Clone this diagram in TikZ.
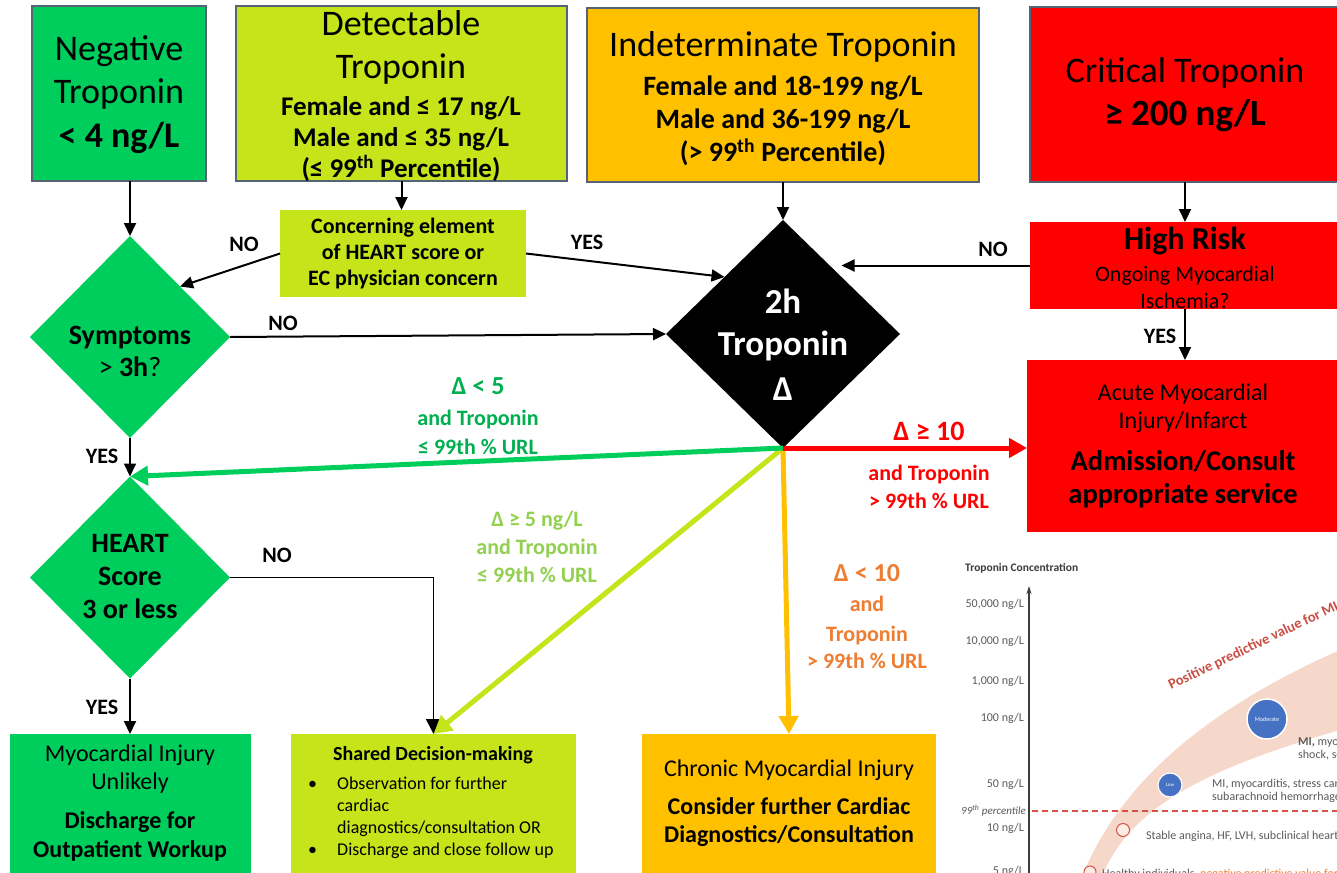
\documentclass[tikz,border=0pt]{standalone}
\usepackage{fontspec}
\setmainfont{Carlito}
\usetikzlibrary{shapes.geometric,arrows.meta}
\definecolor{cgreen}{RGB}{0,206,92}
\definecolor{clime}{RGB}{198,228,26}
\definecolor{corange}{RGB}{255,192,0}
\definecolor{cred}{RGB}{255,0,0}
\definecolor{cborder}{RGB}{86,99,118}
\definecolor{tgreen}{RGB}{0,176,80}
\definecolor{tlime}{RGB}{146,208,80}
\definecolor{torange}{RGB}{237,125,49}
\definecolor{cband}{RGB}{246,216,202}
\definecolor{cblue}{RGB}{70,114,196}
\definecolor{cgray}{RGB}{90,90,90}
\definecolor{cdark}{RGB}{60,60,60}
\definecolor{cppv}{RGB}{200,80,70}
\definecolor{cdash}{RGB}{215,80,70}
\definecolor{cpale}{RGB}{252,236,228}
\newcommand\myfs[2]{\fontsize{#1}{#2}\selectfont\spaceskip=\fontdimen2\font\relax\xspaceskip=\fontdimen2\font\relax}
\begin{document}
\begin{tikzpicture}[x=1pt,y=-1pt,
  bx/.style={rectangle, anchor=north west, inner sep=0pt, outer sep=0pt},
  tb/.style={bx, draw=cborder, line width=2pt},
  dia/.style={diamond, inner sep=0pt, outer sep=0pt},
  tx/.style={align=flush center, inner sep=0pt, text width=#1},
  tx/.default=300pt,
  yn/.style={font=\bfseries\myfs{22}{26}, inner sep=0pt},
  barrow/.style={line width=2pt, -{Triangle[length=13pt,width=12pt]}},
  narrow/.style={line width=1.6pt, -{Triangle[length=15pt,width=15pt]}},
  fat/.style={line width=5pt, -{Triangle[length=18pt,width=19pt]}},
  ctick/.style={anchor=east, inner sep=0pt, text=cgray, font=\myfs{12}{14}},
  cnote/.style={anchor=west, inner sep=0pt, text=cgray, font=\myfs{12}{14}},
  dot/.style={circle, inner sep=0pt, outer sep=0pt}
]
\useasboundingbox (0,0) rectangle (1337,872);
\clip (0,0) rectangle (1337,872);
\fill[white] (0,0) rectangle (1337,872);

% ---------- chart (bottom right) ----------
\fill[cband] (1083,874) .. controls (1110,810) and (1170,725) .. (1340,650)
  -- (1340,730) .. controls (1200,770) and (1130,810) .. (1103,874) -- cycle;
\draw[cdash, line width=1.3pt, dash pattern=on 6pt off 4pt] (1032,811) -- (1337,811);
\draw[cdark, line width=1.2pt, -{Stealth[length=8pt,width=5pt]}] (1029,876) -- (1029,586);
\node[anchor=west, inner sep=0pt, text=cdark, font=\bfseries\myfs{11.5}{14}] (cTitle) at (965,568) {Troponin Concentration};
\node[ctick] (t1) at (1024,604) {50,000 ng/L};
\node[ctick] (t2) at (1024,641) {10,000 ng/L};
\node[ctick] (t3) at (1024,681) {1,000 ng/L};
\node[ctick] (t4) at (1024,718) {100 ng/L};
\node[ctick] (t5) at (1024,784) {50 ng/L};
\node[ctick, font=\itshape\myfs{11}{13}] (t6) at (1026,811) {99\textsuperscript{th} percentile};
\node[ctick] (t7) at (1024,828) {10 ng/L};
\node[ctick] (t8) at (1024,871) {5 ng/L};
\node[dot, fill=cblue, draw=white, line width=1.5pt, minimum size=40pt, text=white, font=\myfs{6}{7}] (cMod) at (1267,719) {Moderate};
\node[dot, fill=cblue, draw=white, line width=1.2pt, minimum size=24pt, text=white, font=\myfs{5}{6}] (cLow) at (1170,785) {Low};
\node[dot, fill=cpale, draw=cdash, line width=1pt, minimum size=13pt] (cSt) at (1123,830) {};
\node[dot, fill=cpale, draw=cdash, line width=1pt, minimum size=12pt] (cHe) at (1090,872) {};
\node[anchor=base west, inner sep=0pt, rotate=25.6, text=cppv, font=\bfseries\myfs{14.5}{16}] (ppvT) at (1171,690) {Positive predictive value for MI};
\node[cnote] (n1) at (1298,742) {\textbf{MI,} myocarditis};
\node[cnote] (n2) at (1298,755) {shock, sepsis};
\node[cnote] (n3) at (1212,784) {MI, myocarditis, stress cardiomyopathy};
\node[cnote] (n4) at (1212,797) {subarachnoid hemorrhage};
\node[cnote] (n5) at (1146,836) {Stable angina, HF, LVH, subclinical heart disease};
\node[cnote] (n6) at (1102,874) {Healthy individuals, \textcolor{torange}{negative predictive value for MI}};

% ---------- boxes ----------
\node[tb, fill=cgreen, minimum width=174pt, minimum height=175pt] (neg) at (32,6) {};
\node[tb, fill=clime, minimum width=331pt, minimum height=175pt] (det) at (236,6) {};
\node[tb, fill=corange, minimum width=392pt, minimum height=174pt] (ind) at (587,8) {};
\node[tb, fill=cred, minimum width=310pt, minimum height=175pt] (crit) at (1030,7) {};
\node[bx, fill=clime, minimum width=246pt, minimum height=87pt] (conc) at (280,210) {};
\node[bx, fill=cred, minimum width=310pt, minimum height=87pt] (hr) at (1030,222) {};
\node[bx, fill=cred, minimum width=313pt, minimum height=172pt] (acute) at (1027,360) {};
\node[dia, fill=cgreen, minimum width=200pt, minimum height=202pt] (sym) at (130,337) {};
\node[dia, fill=black, minimum width=234pt, minimum height=228pt] (d2h) at (783,334) {};
\node[dia, fill=cgreen, minimum width=200pt, minimum height=202pt] (heart) at (130,577.5) {};
\node[bx, fill=cgreen, minimum width=241pt, minimum height=142pt] (myo) at (10,734) {};
\node[bx, fill=clime, minimum width=285pt, minimum height=142pt] (shared) at (291,734) {};
\node[bx, fill=corange, minimum width=294pt, minimum height=142pt] (chron) at (642,734) {};

% ---------- box texts ----------
\node[tx=170pt] (negT) at (119,95) {\myfs{36}{43}Negative\par Troponin\par\bfseries\myfs{36}{44}< 4 ng/L\par};
\node[tx=330pt] (detT) at (401,96) {\myfs{36}{43}Detectable\par Troponin\par\vspace{6pt}\bfseries\myfs{27}{31}Female and ≤ 17 ng/L\par Male and ≤ 35 ng/L\par (≤ 99\textsuperscript{th} Percentile)\par};
\node[tx=390pt] (indT) at (783,99) {\myfs{36}{43}Indeterminate Troponin\par\vspace{6pt}\bfseries\myfs{28}{33}Female and 18-199 ng/L\par Male and 36-199 ng/L\par (> 99\textsuperscript{th} Percentile)\par};
\node[tx=300pt] (critT) at (1185,95) {\myfs{36}{43}Critical Troponin\par\bfseries\myfs{37}{43}≥ 200 ng/L\par};
\node[tx=240pt] (concT) at (403,254) {\bfseries\myfs{22}{26}Concerning element\par of HEART score or\par EC physician concern\par};
\node[tx=300pt] (hrT) at (1185,268) {\bfseries\myfs{32}{34}High Risk\par\mdseries\myfs{22}{32}Ongoing Myocardial\par\myfs{22}{27}Ischemia?\par};
\node[tx=300pt] (acuteT) at (1183,446) {\myfs{24}{28}Acute Myocardial\par Injury/Infarct\par\bfseries\myfs{28.5}{42}Admission/Consult\par\myfs{28.5}{33}appropriate service\par};
\node[tx=190pt] (symT) at (130,351) {\bfseries\myfs{28}{32}Symptoms\par\mdseries\myfs{28}{32}> \textbf{3h}?\par};
\node[tx=200pt, text=white] (d2hT) at (783,345) {\bfseries\myfs{35}{42}2h\par Troponin\par\myfs{35}{45}Δ\par};
\node[tx=190pt] (heartT) at (130,577) {\bfseries\myfs{28}{33}HEART\par Score\par 3 or less\par};
\node[tx=236pt] (myoT) at (130,803) {\myfs{24}{28}Myocardial Injury\par Unlikely\par\bfseries\myfs{24}{39}Discharge for\par\myfs{24}{29}Outpatient Workup\par};
\node[tx=280pt] (sharedT) at (433,755) {\bfseries\myfs{20}{24}Shared Decision-making\par};
\node[anchor=north west, inner sep=0pt, align=left, font=\myfs{18}{22}] (sharedL) at (308,777)
  {\makebox[29pt][l]{\textbullet}Observation for further\\
   \hspace*{29pt}cardiac\\
   \hspace*{29pt}diagnostics/consultation OR\\
   \makebox[29pt][l]{\textbullet}Discharge and close follow up};
\node[tx=290pt] (chronT) at (789,803) {\myfs{24}{28}Chronic Myocardial Injury\par\bfseries\myfs{24}{38}Consider further Cardiac\par\myfs{24}{28}Diagnostics/Consultation\par};

% ---------- connectors ----------
\draw[barrow] (neg.south -| sym.north) -- (sym.north);
\draw[barrow] (det.south) -- (det.south |- conc.north);
\draw[barrow] (conc.west) -- (sym.north east);
\draw[barrow] (conc.east) -- (d2h.north west);
\draw[barrow] (ind.south) -- (d2h.north);
\draw[barrow] (crit.south) -- (hr.north);
\draw[barrow] (hr.west) -- (hr.west -| d2h.north east);
\draw[barrow] (hr.south) -- (hr.south |- acute.north);
\draw[barrow] (sym.east) -- (d2h.west);
\draw[barrow] (sym.south) -- (heart.north);
\draw[barrow] (heart.south) -- (heart.south |- myo.north);
\draw[narrow] (heart.east) -| (shared.north);
\draw[fat, draw=clime, fill=clime] (d2h.south) -- (shared.north);
\draw[fat, draw=corange, fill=corange] (d2h.south) -- (chron.north);
\draw[fat, draw=cgreen, fill=cgreen] (d2h.south) -- (heart.north);
\draw[fat, draw=cred, fill=cred] (d2h.south) -- (d2h.south -| acute.west);

% ---------- connector labels ----------
\node[yn] (noA) at (244,244) {NO};
\node[yn] (yesA) at (587,242) {YES};
\node[yn] (noB) at (993,249) {NO};
\node[yn] (yesB) at (1160,336) {YES};
\node[yn] (noC) at (283,323) {NO};
\node[yn] (yesC) at (102,456) {YES};
\node[yn] (noD) at (277,555) {NO};
\node[yn] (yesD) at (102,707) {YES};
\node[tx=200pt, text=tgreen, font=\bfseries] (lblG) at (478,416) {\myfs{26}{31}Δ < 5\par\myfs{22}{31}and Troponin\par\myfs{22}{29}≤ 99th \% URL\par};
\node[tx=200pt, text=cred, font=\bfseries] (lblR) at (929,465) {\myfs{28}{32}Δ ≥ 10\par\myfs{22}{40}and Troponin\par\myfs{22}{28}> 99th \% URL\par};
\node[tx=200pt, text=tlime, font=\bfseries] (lblL) at (537,547) {\myfs{22}{28}Δ ≥ 5 ng/L\par and Troponin\par ≤ 99th \% URL\par};
\node[tx=200pt, text=torange, font=\bfseries] (lblO) at (867,617) {\myfs{26}{30}Δ < 10\par\myfs{22}{30}and\par Troponin\par\myfs{22}{27}> 99th \% URL\par};
\end{tikzpicture}
\end{document}
